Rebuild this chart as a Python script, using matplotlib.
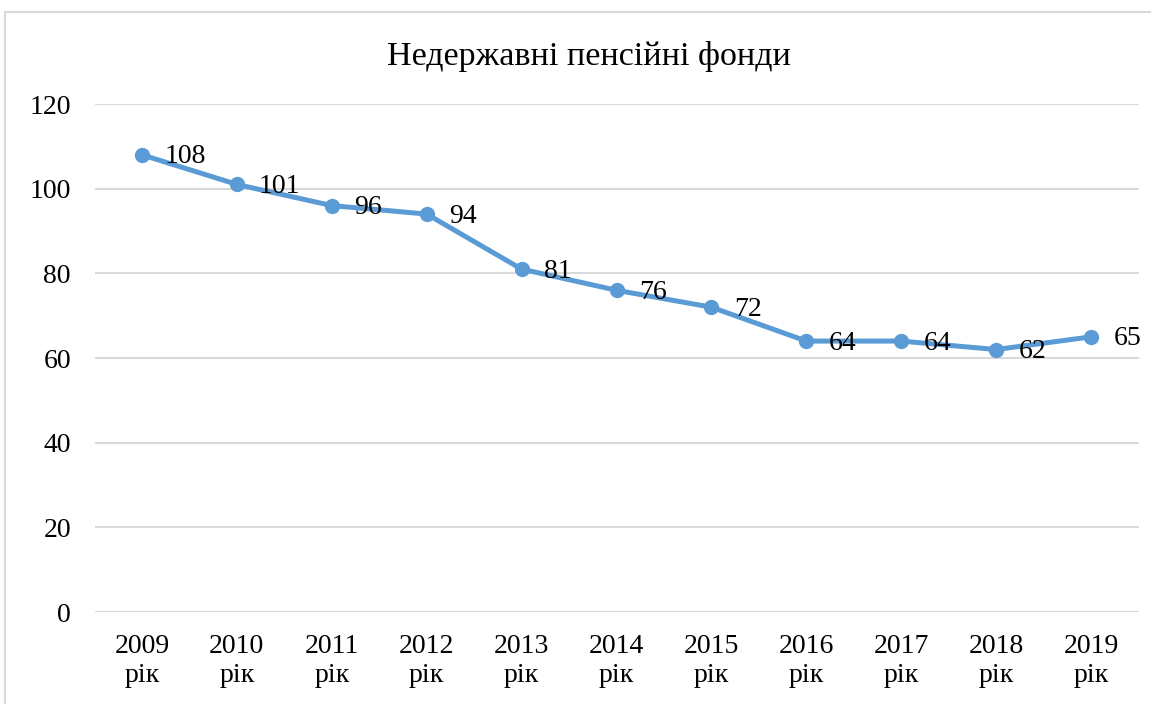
import matplotlib.pyplot as plt
from matplotlib.patches import Rectangle

years = ['2009', '2010', '2011', '2012', '2013', '2014', '2015', '2016',
         '2017', '2018', '2019']
funds = [108, 101, 96, 94, 81, 76, 72, 64, 64, 62, 65]
title = 'Недержавні пенсійні фонди'

plt.rcParams['font.family'] = ['Liberation Serif', 'DejaVu Serif']

fig = plt.figure(figsize=(11.51, 7.04), dpi=100)
ax = fig.add_axes([94.5 / 1151, 1 - 612 / 704, 1044 / 1151, 508 / 704])

# chart frame (only left and top edges are visible in the screenshot)
fig.patches.append(Rectangle((5 / 1151, -0.1), 1.2, 1 - 12 / 704 + 0.1,
                             transform=fig.transFigure, fill=False,
                             edgecolor='#D9D9D9', linewidth=1.5))

x = list(range(len(years)))
ax.plot(x, funds, color='#5B9BD5', linewidth=3.6, marker='o', markersize=10,
        solid_capstyle='round', solid_joinstyle='round', zorder=3)

for xi, v in zip(x, funds):
    ax.annotate(str(v), (xi, v), xytext=(16, -1.5), textcoords='offset points',
                ha='left', va='center', fontsize=20, zorder=4)

ax.set_xlim(-0.5, len(years) - 0.5)
ax.set_ylim(0, 120)
ax.set_yticks(range(0, 121, 20))
ax.set_xticks(x)
ax.set_xticklabels([y + '\nрік' for y in years], linespacing=1.2)
ax.tick_params(axis='both', length=0, labelsize=20)
ax.tick_params(axis='x', pad=16)
ax.tick_params(axis='y', pad=17)
ax.grid(axis='y', color='#D9D9D9', linewidth=1.5)
ax.set_axisbelow(True)
for s in ax.spines.values():
    s.set_visible(False)

fig.text(589 / 1151, 1 - 56 / 704, title, ha='center', va='center',
         fontsize=24.5)

fig.savefig('out.png', dpi=100)
